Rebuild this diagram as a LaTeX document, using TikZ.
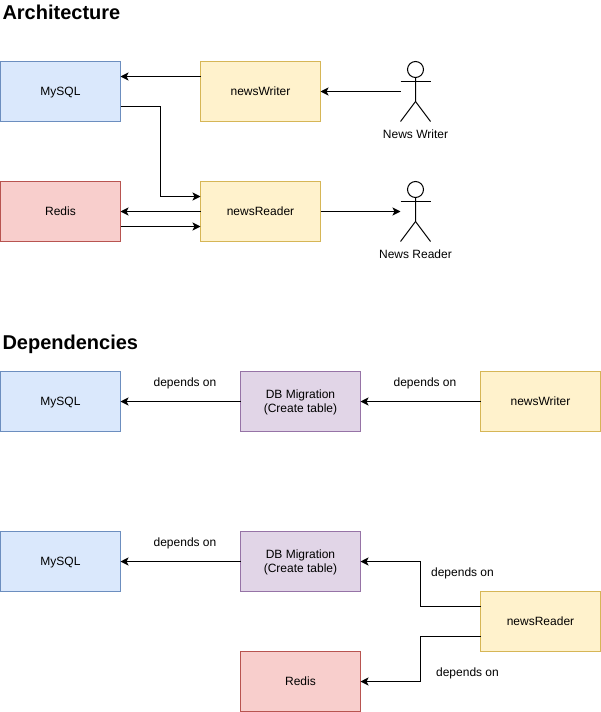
\documentclass[tikz,border=0pt]{standalone}
\usepackage{fontspec}
\setmainfont{Liberation Sans}
\usetikzlibrary{positioning}
\usetikzlibrary{arrows.meta}
\definecolor{mysqlfill}{HTML}{DAE8FC}
\definecolor{mysqlline}{HTML}{6C8EBF}
\definecolor{appfill}{HTML}{FFF2CC}
\definecolor{appline}{HTML}{D6B656}
\definecolor{redisfill}{HTML}{F8CECC}
\definecolor{redisline}{HTML}{B85450}
\definecolor{migfill}{HTML}{E1D5E7}
\definecolor{migline}{HTML}{9673A6}

\tikzset{
    box/.style = {draw, line width = 1pt, outer sep = 0pt, inner sep = 1pt,
        minimum width = 120pt, minimum height = 60pt, align = center, text depth = 0pt,
        font = \fontsize{12}{14}\selectfont},
    mysql/.style = {box, draw = mysqlline, fill = mysqlfill},
    app/.style = {box, draw = appline, fill = appfill},
    redis/.style = {box, draw = redisline, fill = redisfill},
    migration/.style = {box, draw = migline, fill = migfill},
    person/.style = {minimum width = 30pt, minimum height = 60pt, inner sep = 0pt, outer sep = 0pt},
    caption/.style = {inner sep = 0pt, text depth = 0pt, font = \fontsize{12}{14}\selectfont},
    heading/.style = {anchor = west, inner sep = 0pt, text depth = 0pt, font = \fontsize{20}{24}\selectfont\bfseries}
}

% stick figure inside a person node
\newcommand{\stickman}[1]{
    \draw[line width = 1pt] ([yshift=-8pt]#1.north) circle (8pt);
    \draw[line width = 1pt] ([yshift=-16pt]#1.north) -- ([yshift=20pt]#1.south)
        -- (#1.south west);
    \draw[line width = 1pt] ([yshift=20pt]#1.south) -- (#1.south east);
    \draw[line width = 1pt] ([yshift=-20pt]#1.north west) -- ([yshift=-20pt]#1.north east);
}

\begin{document}
\begin{tikzpicture}[
            x = 1pt, y = -1pt,
            > = {Stealth[length=8pt,width=8pt,inset=2pt]}, % arrow head style
            line width = 1pt,
            node distance = 60pt and 80pt % distance between nodes
            ]

    \useasboundingbox (0,0) rectangle (601,712);

    % architecture
    \node[heading] (Arch) at (2,12) {Architecture};

    \node[mysql] (DB) at (60.5,91.5) {MySQL};
    \node[app] (W) [right = of DB] {newsWriter};
    \node[redis] (R) [below = of DB] {Redis};
    \node[app] (NR) [right = of R] {newsReader};

    \node[person] (UW) [right = 80pt of W] {};
    \node[person] (UR) [right = 80pt of NR] {};
    \stickman{UW}
    \stickman{UR}
    \node[caption] (UWtext) [below = 8pt of UW] {News Writer};
    \node[caption] (URtext) [below = 8pt of UR] {News Reader};

    \draw[->] ([yshift=15pt]W.west) -- ([yshift=15pt]DB.east);
    \draw[->] (UW.west) -- (W.east);
    \draw[->] ([yshift=-15pt]DB.east) -- +(40,0) |- ([yshift=15pt]NR.west);
    \draw[->] (NR.west) -- (R.east);
    \draw[->] ([yshift=-15pt]R.east) -- ([yshift=-15pt]NR.west);
    \draw[->] (NR.east) -- (UR.west);

    % dependencies, first row
    \node[heading] (Deps) at (2,342) {Dependencies};

    \node[mysql] (DB2) at (60.5,401.5) {MySQL};
    \node[migration] (M2) [right = 120pt of DB2] {DB Migration\\(Create table)};
    \node[app] (W2) [right = 120pt of M2] {newsWriter};

    \draw[->] (M2) -- (DB2);
    \draw[->] (W2) -- (M2);
    \node[caption] (D1) at (185,382) {depends on};
    \node[caption] (D2) at (425,382) {depends on};

    % dependencies, second row
    \node[mysql] (DB3) at (60.5,561.5) {MySQL};
    \node[migration] (M3) [right = 120pt of DB3] {DB Migration\\(Create table)};
    \node[redis] (R3) [below = of M3] {Redis};
    \node[app] (NR3) at (540.5,621.5) {newsReader};

    \draw[->] (M3) -- (DB3);
    \draw[->] ([yshift=15pt]NR3.west) -- +(-60,0) |- (M3.east);
    \draw[->] ([yshift=-15pt]NR3.west) -- +(-60,0) |- (R3.east);
    \node[caption] (D3) at (185,542) {depends on};
    \node[caption] (D4) at (462.5,572) {depends on};
    \node[caption] (D5) at (467.5,672) {depends on};

\end{tikzpicture}
\end{document}
